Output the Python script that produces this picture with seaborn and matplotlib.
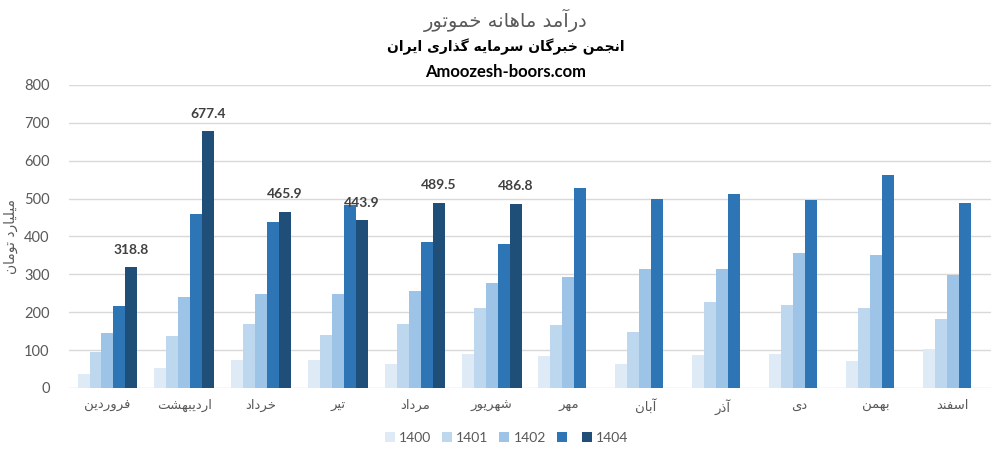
import pandas as pd
import matplotlib
matplotlib.use('Agg')
import matplotlib.pyplot as plt
import seaborn as sns

# monthly revenue, billion toman
months = ['فروردین', 'اردیبهشت', 'خرداد', 'تیر', 'مرداد', 'شهریور',
          'مهر', 'آبان', 'آذر', 'دی', 'بهمن', 'اسفند']
years = ['1400', '1401', '1402', '1403', '1404']
v1400 = [38, 54, 75, 75, 64, 91, 85, 64, 88, 91, 70, 104]
v1401 = [96, 136, 170, 141, 170, 210, 165, 149, 228, 220, 210, 181]
v1402 = [144, 239, 249, 247, 257, 278, 294, 315, 313, 357, 350, 297]
v1403 = [217, 458, 439, 484, 386, 381, 529, 500, 513, 497, 563, 489]
v1404 = [318.8, 677.4, 465.9, 443.9, 489.5, 486.8]
colors = ['#DEEBF7', '#BDD7EE', '#9DC3E6', '#2E75B6', '#1F4E79']

title = 'درآمد ماهانه خموتور'
subtitle = 'انجمن خبرگان سرمایه گذاری ایران'
site = 'Amoozesh-boors.com'
ylabel = 'میلیارد تومان'

# simple arabic/persian shaping (matplotlib has no text shaping)
FORMS = {
    'ا': ('\uFE8D', '\uFE8E', None, None),
    'آ': ('\uFE81', '\uFE82', None, None),
    'ب': ('\uFE8F', '\uFE90', '\uFE91', '\uFE92'),
    'ت': ('\uFE95', '\uFE96', '\uFE97', '\uFE98'),
    'ج': ('\uFE9D', '\uFE9E', '\uFE9F', '\uFEA0'),
    'خ': ('\uFEA5', '\uFEA6', '\uFEA7', '\uFEA8'),
    'د': ('\uFEA9', '\uFEAA', None, None),
    'ذ': ('\uFEAB', '\uFEAC', None, None),
    'ر': ('\uFEAD', '\uFEAE', None, None),
    'ز': ('\uFEAF', '\uFEB0', None, None),
    'س': ('\uFEB1', '\uFEB2', '\uFEB3', '\uFEB4'),
    'ش': ('\uFEB5', '\uFEB6', '\uFEB7', '\uFEB8'),
    'ف': ('\uFED1', '\uFED2', '\uFED3', '\uFED4'),
    'ل': ('\uFEDD', '\uFEDE', '\uFEDF', '\uFEE0'),
    'م': ('\uFEE1', '\uFEE2', '\uFEE3', '\uFEE4'),
    'ن': ('\uFEE5', '\uFEE6', '\uFEE7', '\uFEE8'),
    'ه': ('\uFEE9', '\uFEEA', '\uFEEB', '\uFEEC'),
    'و': ('\uFEED', '\uFEEE', None, None),
    'ی': ('\uFBFC', '\uFBFD', '\uFBFE', '\uFBFF'),
    'گ': ('\uFB92', '\uFB93', '\uFB94', '\uFB95'),
}


def fa(text):
    out = []
    for i, c in enumerate(text):
        if c not in FORMS:
            out.append(c)
            continue
        prev = text[i - 1] if i > 0 else ''
        nxt = text[i + 1] if i + 1 < len(text) else ''
        jp = prev in FORMS and FORMS[prev][2] is not None
        jn = nxt in FORMS and FORMS[c][2] is not None
        iso, fin, ini, med = FORMS[c]
        if jp and jn:
            out.append(med)
        elif jp:
            out.append(fin)
        elif jn:
            out.append(ini)
        else:
            out.append(iso)
    return ''.join(reversed(out))


rows = []
for series, vals in zip(years, [v1400, v1401, v1402, v1403, v1404]):
    for m, v in zip(months, vals):
        rows.append({'month': m, 'year': series, 'value': v})
df = pd.DataFrame(rows)

sns.set_theme(style='white')
plt.rcParams['font.family'] = ['Lato', 'DejaVu Sans']

fig = plt.figure(figsize=(10.01, 4.53), dpi=100)
ax = fig.add_axes([0.069, 0.1435, 0.921, 0.669])

sns.barplot(data=df, x='month', y='value', hue='year', order=months,
            hue_order=years, palette=colors, saturation=1, width=0.78,
            errorbar=None, linewidth=0, ax=ax, zorder=3)

ax.set_ylim(0, 800)
ax.set_yticks(range(0, 801, 100))
ax.yaxis.grid(True, color='#D9D9D9', linewidth=1, zorder=0)
ax.set_axisbelow(True)
for s in ax.spines.values():
    s.set_visible(False)
ax.tick_params(axis='both', length=0, colors='#595959')
ax.tick_params(axis='y', labelsize=10.5, pad=14)
ax.set_xticks(range(len(months)))
ax.set_xticklabels([fa(m) for m in months], fontsize=9.5,
                   family=['DejaVu Sans'], color='#595959')
ax.tick_params(axis='x', pad=8)
ax.set_xlabel('')
ax.set_ylabel(fa(ylabel), fontsize=10, color='#595959',
              family=['DejaVu Sans'], labelpad=4)
ax.set_xlim(-0.5, len(months) - 0.5)

# labels on the 1404 bars
ax.bar_label(ax.containers[4], labels=[f'{v:.1f}' for v in v1404],
             padding=8, fontsize=10, fontweight='bold', color='#404040')

# legend, the 1403 entry has no text in the source chart
handles, labels = ax.get_legend_handles_labels()
ax.get_legend().remove()
labels = [l if l != '1403' else '' for l in labels]
fig.legend(handles, labels, loc='center', bbox_to_anchor=(0.506, 1 - 438 / 453),
           ncol=5, frameon=False, fontsize=10, handlelength=0.7,
           handleheight=0.7, handletextpad=0.3, columnspacing=0.8,
           labelcolor='#595959')

fig.text(0.505, 1 - 20 / 453, fa(title), ha='center', va='center',
         fontsize=14, color='#595959', family=['DejaVu Sans'])
fig.text(0.505, 1 - 47 / 453, fa(subtitle), ha='center', va='center',
         fontsize=10, fontweight='bold', color='black', family=['DejaVu Sans'])
fig.text(0.505, 1 - 72 / 453, site, ha='center', va='center',
         fontsize=12, fontweight='bold', color='black')

fig.savefig('out.png', dpi=100)
